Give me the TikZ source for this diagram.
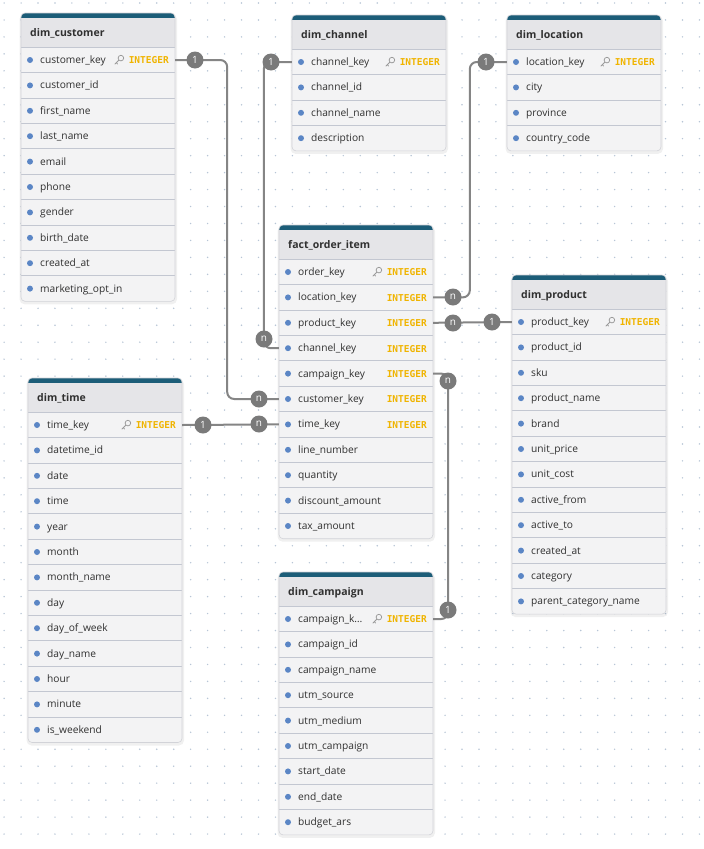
\documentclass[tikz,border=0pt]{standalone}
\usepackage{fontspec}
\setmainfont{Open Sans}
\newfontfamily\intfont{DejaVu Sans Mono}
\definecolor{barfill}{HTML}{1C5D78}
\definecolor{headfill}{HTML}{E5E5E8}
\definecolor{rowfill}{HTML}{F3F3F4}
\definecolor{sepc}{HTML}{C3C7D1}
\definecolor{bordc}{HTML}{D2D3D8}
\definecolor{txt}{HTML}{303030}
\definecolor{intc}{HTML}{F0B400}
\definecolor{bulc}{HTML}{5B86C5}
\definecolor{badgec}{HTML}{7A7A7A}
\definecolor{connc}{HTML}{858585}
\definecolor{dotc}{HTML}{B7C5D6}
\definecolor{keyc}{HTML}{9A9A9A}
\tikzset{
  rowtext/.style={anchor=west, inner sep=0pt, text height=8.5pt, text depth=1.5pt, font=\fontsize{10.2}{12}\selectfont, text=txt},
  titletext/.style={anchor=west, inner sep=0pt, text height=8.5pt, text depth=1.5pt, font=\bfseries\fontsize{10.5}{12}\selectfont, text=txt},
  inttext/.style={anchor=east, inner sep=0pt, text height=7.8pt, text depth=0pt, font=\intfont\bfseries\fontsize{9.5}{11}\selectfont, text=intc},
  rowbox/.style={minimum width=154pt, minimum height=25.4pt, inner sep=0pt},
  badge/.style={circle, fill=badgec, minimum size=17pt, inner sep=0pt, text=white, font=\fontsize{10}{12}\selectfont},
  conn/.style={draw=connc, line width=2pt, rounded corners=7pt},
  sepline/.style={draw=sepc, line width=1pt},
}
\newcommand\keyicon[2]{%
  \begin{scope}[shift={(#1,#2)}]
    \draw[keyc, line width=0.75pt] (1.9,-1.9) circle (2.8pt);
    \draw[keyc, line width=0.75pt, line cap=round] (-0.1,0.1) -- (-4.2,4.2) (-2.7,2.7) -- (-1.4,4.0);
  \end{scope}}
\newcommand\ertable[6]{%
  \pgfmathsetmacro\Bt{#3+34.3+#5*25.4}
  \fill[black, opacity=0.06, rounded corners=5pt] (#2-1.5,#3+1) rectangle (#2+156,\Bt+3);
  \fill[rowfill, rounded corners=4pt] (#2,#3) rectangle (#2+154,\Bt);
  \fill[headfill, rounded corners=4pt] (#2,#3+34.3) |- (#2+154,#3) [sharp corners] -- (#2+154,#3+34.3) -- cycle;
  \begin{scope}
    \clip[rounded corners=4pt] (#2,#3) rectangle (#2+154,#3+20);
    \fill[barfill] (#2,#3) rectangle (#2+154,#3+5);
  \end{scope}
  \node[titletext] (#1-title) at (#2+9,#3+20) {#4};
  \foreach \nm/\fl [count=\i] in {#6} {
    \pgfmathsetmacro\yc{#3+34.3+(\i-0.5)*25.4}
    \draw[sepline] (#2,\yc-12.7) -- (#2+154,\yc-12.7);
    \node[rowbox] (#1-\i) at (#2+77,\yc) {};
    \fill[bulc] (#2+9,\yc) circle (3pt);
    \node[rowtext] (#1-\i-n) at (#2+19,\yc) {\nm};
    \ifnum\fl>0 \node[inttext] (#1-\i-ty) at (#2+148,\yc) {INTEGER};\fi
    \ifnum\fl=2 \keyicon{#2+154-56}{\yc}\fi
  }
  \draw[bordc, line width=0.6pt, rounded corners=4pt] (#2,#3) rectangle (#2+154,\Bt);
}
\begin{document}
\begin{tikzpicture}[x=1pt,y=-1pt]
\fill[white] (0,0) rectangle (704,849);
\useasboundingbox (0,0) rectangle (704,849);
\foreach \i in {0,...,41} {\foreach \j in {0,...,49} {\fill[dotc] (4.1+\i*16.96,3+\j*16.96) circle (0.8pt);}}

\ertable{cust}{21}{13}{dim\_customer}{10}{customer\_key/2, customer\_id/0, first\_name/0, last\_name/0, email/0, phone/0, gender/0, birth\_date/0, created\_at/0, marketing\_opt\_in/0}
\ertable{chan}{292}{15}{dim\_channel}{4}{channel\_key/2, channel\_id/0, channel\_name/0, description/0}
\ertable{loc}{507}{15}{dim\_location}{4}{location\_key/2, city/0, province/0, country\_code/0}
\ertable{fact}{279}{225}{fact\_order\_item}{11}{order\_key/2, location\_key/1, product\_key/1, channel\_key/1, campaign\_key/1, customer\_key/1, time\_key/1, line\_number/0, quantity/0, discount\_amount/0, tax\_amount/0}
\ertable{prod}{512}{275}{dim\_product}{12}{product\_key/2, product\_id/0, sku/0, product\_name/0, brand/0, unit\_price/0, unit\_cost/0, active\_from/0, active\_to/0, created\_at/0, category/0, parent\_category\_name/0}
\ertable{time}{28}{378}{dim\_time}{13}{time\_key/2, datetime\_id/0, date/0, time/0, year/0, month/0, month\_name/0, day/0, day\_of\_week/0, day\_name/0, hour/0, minute/0, is\_weekend/0}
\ertable{camp}{279}{572}{dim\_campaign}{9}{campaign\_k…/2, campaign\_id/0, campaign\_name/0, utm\_source/0, utm\_medium/0, utm\_campaign/0, start\_date/0, end\_date/0, budget\_ars/0}

% connectors
\draw[conn] (cust-1.east) -- ++(52,0) |- (fact-6.west);
\draw[conn] (chan-1.west) -- ++(-28,0) |- (fact-4.west);
\draw[conn] (loc-1.west) -- ++(-37,0) |- (fact-2.east);
\draw[conn] (fact-3.east) -- (prod-1.west);
\draw[conn] (fact-5.east) -- ++(15,0) |- (camp-1.east);
\draw[conn] (time-1.east) -- (fact-7.west);

% badges
\node[badge] (bc1) at (195,60) {1};
\node[badge] (bcn) at (259,399) {n};
\node[badge] (bh1) at (271,62) {1};
\node[badge] (bhn) at (264,339) {n};
\node[badge] (bl1) at (486,62) {1};
\node[badge] (bln) at (453,297) {n};
\node[badge] (bpn) at (453,323) {n};
\node[badge] (bp1) at (492,322) {1};
\node[badge] (bmn) at (448,381) {n};
\node[badge] (bm1) at (448,610) {1};
\node[badge] (bt1) at (203,425) {1};
\node[badge] (btn) at (259,424) {n};
\end{tikzpicture}
\end{document}
